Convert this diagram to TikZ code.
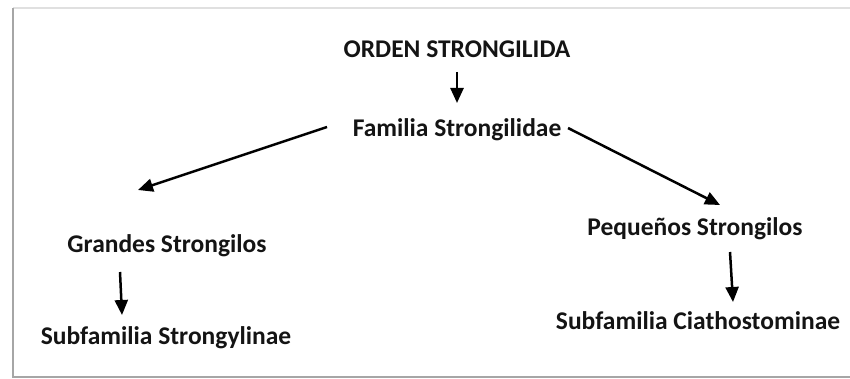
\documentclass[tikz,border=0pt]{standalone}
\usepackage{fontspec}
\setmainfont{Carlito}
\usepackage{tikz}
\usetikzlibrary{arrows.meta}

\begin{document}
\begin{tikzpicture}[x=1pt, y=-1pt,
        taxon/.style={inner sep=0pt, anchor=base, text=black!92, font=\fontsize{25.5}{30}\selectfont\bfseries},
        arrow/.style={-{Triangle[length=15pt, width=13pt]}, line width=2.5pt, draw=black}
    ]
    \useasboundingbox (0,0) rectangle (850,379);
    % Marco con sombra
    \fill[white] (13,8) rectangle (850,376);
    \draw[black!12, line width=2pt] (13,8) -- (850,8);
    \draw[black!35, line width=2.5pt] (13,8) -- (13,377);
    \draw[black!35, line width=2.5pt] (12,377) -- (850,377);

    % Orden y familia
    \node[taxon] (orden) at (457, 58) {ORDEN STRONGILIDA};
    \node[taxon] (fam) at (457, 137) {Familia Strongilidae};

    % Grandes strongilos
    \node[taxon] (gra) at (167, 252) {Grandes Strongilos};
    \node[taxon] (sg) at (166, 344) {Subfamilia Strongylinae};

    % Pequenos strongilos
    \node[taxon] (peq) at (695, 235) {Pequeños Strongilos};
    \node[taxon] (sc) at (698, 329) {Subfamilia Ciathostominae};

    % Flechas
    \draw[arrow] ([yshift=-14pt]orden.base) -- ([yshift=34pt]fam.base);
    \draw[arrow] ([xshift=-130pt, yshift=10pt]fam.base) -- ([xshift=-29pt, yshift=62pt]gra.base);
    \draw[arrow] ([xshift=111pt, yshift=9pt]fam.base) -- ([xshift=25pt, yshift=30pt]peq.base);
    \draw[arrow] ([xshift=-47pt, yshift=-20pt]gra.base) -- ([xshift=-44pt, yshift=29pt]sg.base);
    \draw[arrow] ([xshift=35pt, yshift=-17pt]peq.base) -- ([xshift=35pt, yshift=27pt]sc.base);
\end{tikzpicture}
\end{document}
